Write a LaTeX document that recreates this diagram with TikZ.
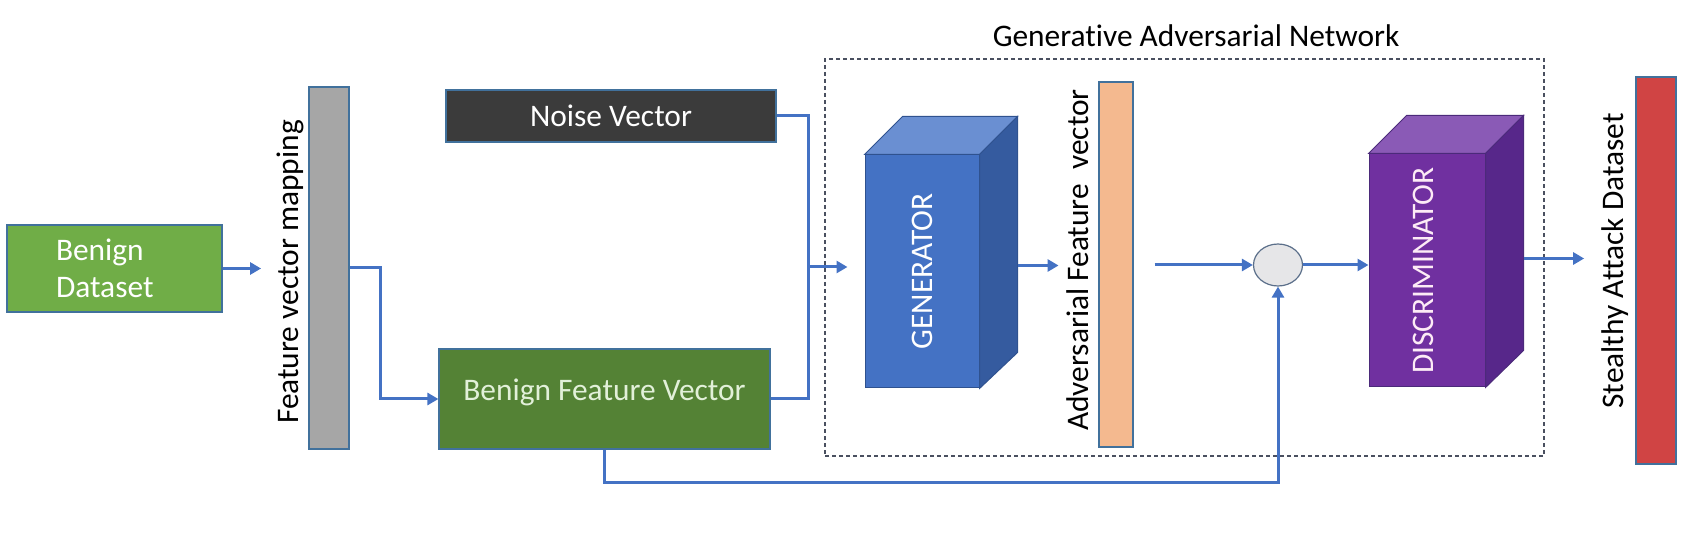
\documentclass[tikz,border=0pt]{standalone}
\usepackage{fontspec}
\setmainfont{Carlito}[Ligatures=NoCommon]
\usetikzlibrary{arrows.meta,calc,shapes.geometric}
\definecolor{lineblue}{HTML}{4472C4}
\definecolor{edgeblue}{HTML}{41719C}
\definecolor{bdgreen}{HTML}{70AD47}
\definecolor{bfvgreen}{HTML}{548235}
\definecolor{bfvtext}{HTML}{E2F0D9}
\definecolor{noisegray}{HTML}{3B3B3B}
\definecolor{bargray}{HTML}{A6A6A6}
\definecolor{peach}{HTML}{F4B98F}
\definecolor{redbar}{HTML}{D04444}
\definecolor{circfill}{HTML}{E6E6E8}
\definecolor{circedge}{HTML}{5B6F8A}
\definecolor{dashgray}{HTML}{4A5060}
\definecolor{genfront}{HTML}{4472C4}
\definecolor{gentop}{HTML}{6A8FD2}
\definecolor{genside}{HTML}{355B9F}
\definecolor{genedge}{HTML}{2F528F}
\definecolor{discfront}{HTML}{7030A0}
\definecolor{disctop}{HTML}{8A5AB6}
\definecolor{discside}{HTML}{57278A}
\definecolor{discedge}{HTML}{4B2A7A}
\begin{document}
\begin{tikzpicture}[x=0.5pt,y=-0.5pt,
  font=\fontsize{15.7}{18.5}\selectfont,
  conn/.style={draw=lineblue,line width=1.5pt},
  arr/.style={conn,-{Triangle[length=5.5pt,width=6pt]}},
  box/.style={draw=edgeblue,line width=0.6pt,inner sep=0pt},
  vlabel/.style={rotate=90,inner sep=0pt},
  face/.style={line width=0.5pt}
]
\useasboundingbox (0,0) rectangle (1683,534);

% GAN dashed frame and title
\node[draw=dashgray,line width=0.6pt,dash pattern=on 2pt off 1.5pt,
      minimum width=359.5pt,minimum height=198.5pt,inner sep=0pt] (gan) at (1184.5,257.5) {};
\node[anchor=base] (title) at (1196,47) {Generative Adversarial Network};

% left part
\node[box,fill=bdgreen,text=white,minimum width=107.5pt,minimum height=43.5pt,
      text width=58.5pt,inner xsep=24.5pt,align=left] (bd) at (114.5,268.5) {Benign\\Dataset};
\node[box,fill=bargray,minimum width=20pt,minimum height=181pt] (fvm) at (329,268) {};
\node[vlabel] (fvmlab) at (290,272) {Feature vector mapping};

\node[box,fill=noisegray,text=white,minimum width=165pt,minimum height=26pt] (noise) at (611,116) {Noise Vector};
\node[box,fill=bfvgreen,text=bfvtext,minimum width=165.5pt,minimum height=50pt,text depth=9.5pt] (bfv) at (604.5,399) {Benign Feature Vector};

% generator cube
\node[draw=genedge,face,fill=genfront,minimum width=57pt,minimum height=116.5pt,inner sep=0pt] (gen) at (922,271.5) {};
\draw[draw=genedge,face,fill=gentop] (gen.north west) -- ([shift={(38,-38)}]gen.north west)
  -- ([shift={(38,-38)}]gen.north east) -- (gen.north east) -- cycle;
\draw[draw=genedge,face,fill=genside] (gen.north east) -- ([shift={(38,-38)}]gen.north east)
  -- ([shift={(38,-36)}]gen.south east) -- (gen.south east) -- cycle;
\node[vlabel,text=white] (genlab) at (gen.center) {GENERATOR};

% adversarial feature vector
\node[box,fill=peach,minimum width=17pt,minimum height=182.5pt] (afv) at (1116,264.5) {};
\node[vlabel] (afvlab) at (1078,260) {Adversarial Feature~~vector};

% combiner
\node[ellipse,draw=circedge,line width=0.6pt,fill=circfill,minimum width=24.5pt,minimum height=21pt,inner sep=0pt] (circ) at (1278,265) {};

% discriminator cube
\node[draw=discedge,face,fill=discfront,minimum width=58pt,minimum height=116.5pt,inner sep=0pt] (disc) at (1427,270.5) {};
\draw[draw=discedge,face,fill=disctop] (disc.north west) -- ([shift={(38,-38)}]disc.north west)
  -- ([shift={(38,-38)}]disc.north east) -- (disc.north east) -- cycle;
\draw[draw=discedge,face,fill=discside] (disc.north east) -- ([shift={(38,-38)}]disc.north east)
  -- ([shift={(38,-37)}]disc.south east) -- (disc.south east) -- cycle;
\node[vlabel,text=white!92!magenta] (disclab) at ([xshift=-2pt]disc.center) {DISCRIMINATOR};

% stealthy attack dataset
\node[box,fill=redbar,minimum width=20pt,minimum height=193.5pt] (sad) at (1656,270.5) {};
\node[vlabel] (sadlab) at (1615,261) {Stealthy Attack Dataset};

% connectors
\draw[arr,shorten >=7.5pt] (bd.east) -- (bd.east -| fvmlab.north);
\draw[arr] (fvm.east) -- ++(31,0) |- (bfv.west);
\coordinate (jn) at (808,267);
\draw[conn] (noise.east) -| (jn) |- (bfv.east);
\draw[arr,shorten >=8.5pt] (jn) -- (jn -| gen.west);
\coordinate (gout) at ([xshift=19pt,yshift=3pt]gen.east);
\draw[arr,shorten >=4pt] (gout) -- (gout -| afvlab.north);
\coordinate (aout) at ([xshift=10.5pt]afv.east |- circ.west);
\draw[arr] (aout) -- (circ.west);
\draw[arr] (circ.east) -- (circ.east -| disc.west);
\coordinate (dout) at ([xshift=19pt,yshift=6pt]disc.east);
\draw[arr,shorten >=8.5pt] (dout) -- (dout -| sadlab.north);
\draw[arr] (bfv.south) -- ++(0,33) -| (circ.south);
\end{tikzpicture}
\end{document}
